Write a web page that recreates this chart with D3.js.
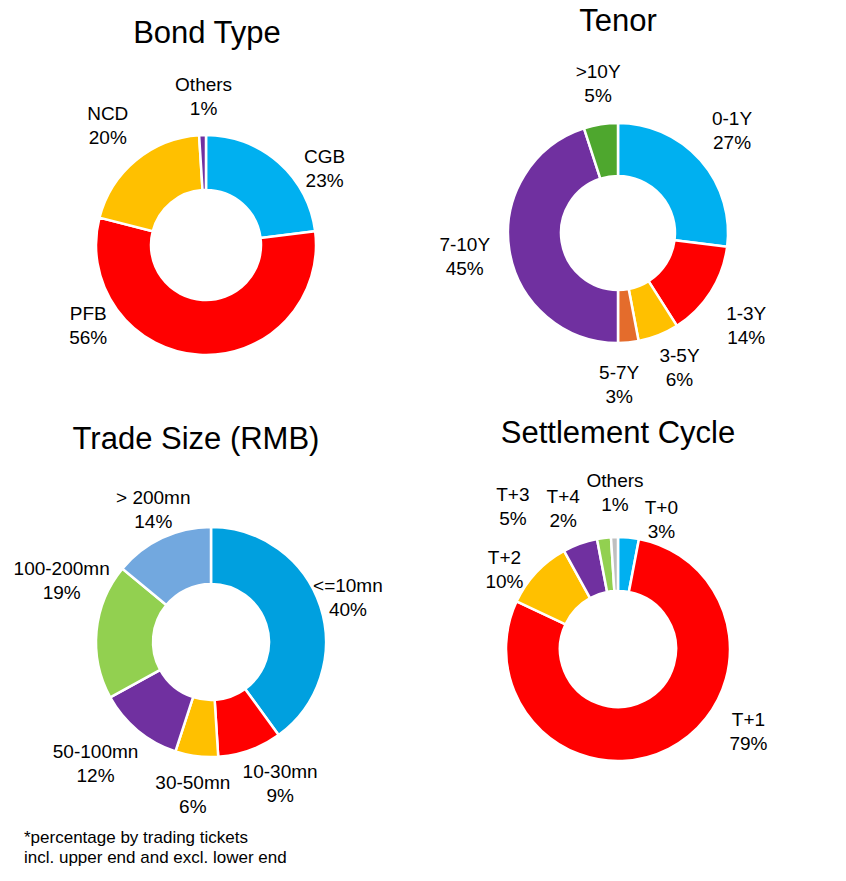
<!DOCTYPE html>
<html>
<head>
<meta charset="utf-8">
<script src="https://cdn.jsdelivr.net/npm/d3@7"></script>
<style>
  body { margin: 0; background: #fff; }
  text { font-family: "Liberation Sans", Arial, sans-serif; fill: #000; }
</style>
</head>
<body>
<div id="chart"></div>
<script>
// data
const bondCategories = ['CGB', 'PFB', 'NCD', 'Others'];
const bondValues = [23, 56, 20, 1];

const tenorCategories = ['0-1Y', '1-3Y', '3-5Y', '5-7Y', '7-10Y', '>10Y'];
const tenorValues = [27, 14, 6, 3, 45, 5];

const sizeCategories = ['<=10mn', '10-30mn', '30-50mn', '50-100mn', '100-200mn', '> 200mn'];
const sizeValues = [40, 9, 6, 12, 19, 14];

const settleCategories = ['T+0', 'T+1', 'T+2', 'T+3', 'T+4', 'Others'];
const settleValues = [3, 79, 10, 5, 2, 1];

// layout (label nudges from the arc centroid, in px)
const panels = [
  { title: 'Bond Type', cats: bondCategories, vals: bondValues,
    colors: ['#00B0F0', '#FF0000', '#FFC000', '#7030A0'],
    cx: 206, cy: 245, r: 110, ir: 55, tx: 207, ty: 43,
    nudge: [[26, 28], [-109, -60], [-9, -12], [2, -9]] },
  { title: 'Tenor', cats: tenorCategories, vals: tenorValues,
    colors: ['#00B0F0', '#FF0000', '#FFC000', '#E46C2C', '#7030A0', '#4EA72E'],
    cx: 618, cy: 233, r: 110, ir: 57, tx: 618, ty: 31,
    nudge: [[9, -10], [10, 17], [10, 4], [-12, 12], [-15, 1], [2, -12]] },
  { title: 'Trade Size (RMB)', cats: sizeCategories, vals: sizeValues,
    colors: ['#00A0DF', '#FF0000', '#FFC000', '#7030A0', '#92D050', '#72A8DF'],
    cx: 211, cy: 642, r: 115, ir: 58, tx: 196, ty: 449,
    nudge: [[-1, 0], [20, 5], [0, 8], [-23, 9], [-5, -48], [4, -2]] },
  { title: 'Settlement Cycle', cats: settleCategories, vals: settleValues,
    colors: ['#00B0F0', '#FF0000', '#FFC000', '#7030A0', '#92D050', '#BFBFBF'],
    cx: 618, cy: 649, r: 112, ir: 58, tx: 618, ty: 443,
    nudge: [[30, 11], [66, -45], [-10, 17], [-57, -9], [-37, 0], [1.5, -15]] }
];

const width = 846, height = 881;
const svg = d3.select('#chart').append('svg')
  .attr('width', width)
  .attr('height', height);

panels.forEach(p => {
  const data = p.cats.map((c, i) => [c, p.vals[i]]);
  const total = d3.sum(p.vals);

  const color = d3.scaleOrdinal().domain(p.cats).range(p.colors);
  const pie = d3.pie().value(d => d[1]).sort(null);
  const arc = d3.arc().innerRadius(p.ir).outerRadius(p.r);
  const labelArc = d3.arc().innerRadius(p.r + 30).outerRadius(p.r + 30);

  svg.append('text')
    .attr('x', p.tx)
    .attr('y', p.ty)
    .attr('text-anchor', 'middle')
    .style('font-size', '31px')
    .text(p.title);

  const g = svg.append('g')
    .attr('transform', `translate(${p.cx}, ${p.cy})`);

  const arcs = pie(data);

  g.selectAll('path.slice')
    .data(arcs)
    .join('path')
    .classed('slice', true)
    .attr('d', arc)
    .attr('fill', d => color(d.data[0]))
    .attr('stroke', '#fff')
    .attr('stroke-width', 2.5);

  const labels = g.selectAll('text.label')
    .data(arcs)
    .join('text')
    .classed('label', true)
    .attr('transform', (d, i) => {
      const [x, y] = labelArc.centroid(d);
      return `translate(${x + p.nudge[i][0]}, ${y + p.nudge[i][1]})`;
    })
    .attr('text-anchor', 'middle')
    .style('font-size', '19px');

  labels.append('tspan')
    .attr('x', 0)
    .attr('y', -5)
    .text(d => d.data[0]);
  labels.append('tspan')
    .attr('x', 0)
    .attr('y', 19)
    .text(d => Math.round(d.data[1] / total * 100) + '%');
});

// footnote
const note = svg.append('text')
  .attr('x', 24)
  .attr('y', 843)
  .style('font-size', '17px');
note.append('tspan').attr('x', 24).attr('dy', 0).text('*percentage by trading tickets');
note.append('tspan').attr('x', 24).attr('dy', 20).text('incl. upper end and excl. lower end');
</script>
</body>
</html>
